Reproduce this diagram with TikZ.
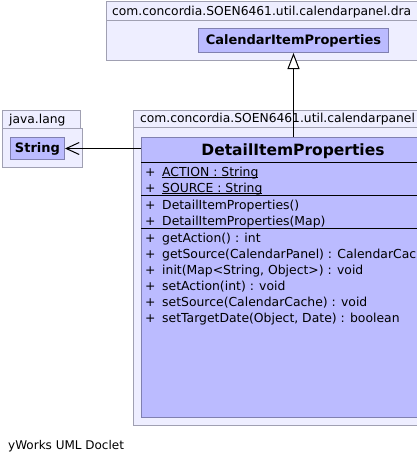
\documentclass[tikz,border=0pt]{standalone}
\usepackage{fontspec}
\setmainfont{DejaVu Sans}
\usepackage{xcolor}
\usepackage{tikz}
\usetikzlibrary{arrows.meta,positioning,calc}

\definecolor{pkgfill}{RGB}{238,238,255}
\definecolor{pkgline}{RGB}{160,160,178}
\definecolor{clsfill}{RGB}{187,187,255}
\definecolor{clsline}{RGB}{128,128,176}

\newlength\ulinelen
\newcommand{\staticul}[1]{\settowidth{\ulinelen}{#1}\rlap{\rule[-1.4pt]{\ulinelen}{0.9pt}}#1}
\newcommand{\pub}{\makebox[17pt][l]{+}}

\begin{document}
\begin{tikzpicture}[x=1pt, y=-1pt,
    pkg/.style={rectangle, draw=pkgline, fill=pkgfill, line width=1pt, inner sep=0pt, anchor=north west},
    cls/.style={rectangle, draw=clsline, fill=clsfill, line width=1pt, inner sep=0pt, anchor=north west, font=\fontsize{13}{15}\selectfont\bfseries},
    pkgname/.style={anchor=base west, inner sep=0pt, font=\fontsize{12.3}{14}\selectfont},
    item/.style={anchor=base west, inner sep=0pt, font=\fontsize{12.4}{14}\selectfont},
    sep/.style={line width=1pt, black},
    inherit/.style={line width=1pt, -{Triangle[length=16pt, width=12pt, fill=white]}},
    depend/.style={line width=1pt, -{Straight Barb[length=13pt, width=12pt]}}]

    \useasboundingbox (0,0) rectangle (417,463);
    \clip (0,0) rectangle (417,463);

    % Packages
    \node[pkg, minimum width=330pt, minimum height=40pt] (pkgTop) at (106,20) {};
    \node[pkg, minimum width=330pt, minimum height=19pt] (pkgTopTab) at (106,1) {};
    \node[pkgname] (pkgTopName) at (112,15.5) {com.concordia.SOEN6461.util.calendarpanel.dra};

    \node[pkg, minimum width=80pt, minimum height=39pt] (pkgLang) at (2,128) {};
    \node[pkg, minimum width=78pt, minimum height=18pt] (pkgLangTab) at (2,110) {};
    \node[pkgname] (pkgLangName) at (9,123) {java.lang};

    \node[pkg, minimum width=320pt, minimum height=298pt] (pkgUtil) at (133,127) {};
    \node[pkg, minimum width=320pt, minimum height=17pt] (pkgUtilTab) at (133,110) {};
    \node[pkgname] (pkgUtilName) at (140,122) {com.concordia.SOEN6461.util.calendarpanel};

    % Classes
    \node[cls, minimum width=190pt, minimum height=24pt] (calItem) at (198,28) {CalendarItemProperties};
    \node[cls, minimum width=54pt, minimum height=22pt] (string) at (10,137) {String};
    \node[cls, minimum width=304pt, minimum height=280pt] (detail) at (141,137) {};
    \node[anchor=base, inner sep=0pt, font=\fontsize{15.5}{18}\selectfont\bfseries] (detailName) at (293,155) {DetailItemProperties};

    % Compartments
    \draw[sep] ($(detail.north west)+(0,25)$) -- ($(detail.north east)+(0,25)$);
    \draw[sep] ($(detail.north west)+(0,58)$) -- ($(detail.north east)+(0,58)$);
    \draw[sep] ($(detail.north west)+(0,91)$) -- ($(detail.north east)+(0,91)$);

    \node[item] (attr1) at (145,176) {\pub\staticul{ACTION : String}};
    \node[item] (attr2) at (145,192) {\pub\staticul{SOURCE : String}};
    \node[item] (ctor1) at (145,209) {\pub DetailItemProperties()};
    \node[item] (ctor2) at (145,225) {\pub DetailItemProperties(Map)};
    \foreach \txt [count=\i] in {getAction() : int, getSource(CalendarPanel) : CalendarCac, {init(Map<String, Object>) : void}, setAction(int) : void, setSource(CalendarCache) : void, {setTargetDate(Object, Date) : boolean}}
        \node[item] (meth\i) at (145,226+16*\i) {\pub\txt};

    % Relations
    \draw[inherit] (detail.north) -- (calItem.south);
    \draw[depend] (detail.west |- string.east) -- (string.east);

    \node[anchor=base west, inner sep=0pt, font=\fontsize{12}{14}\selectfont] (doclet) at (8,449) {yWorks UML Doclet};

\end{tikzpicture}
\end{document}
